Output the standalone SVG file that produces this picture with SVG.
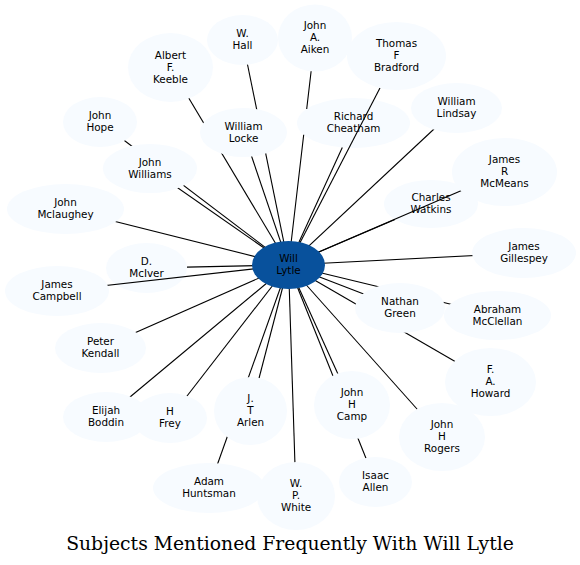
<svg xmlns="http://www.w3.org/2000/svg" width="580" height="565" viewBox="0 0 580 565">
<style>
.n ellipse{fill:#f7fbff;stroke:none}
.hub ellipse{fill:#08519c;stroke:none}
text{font-family:"DejaVu Sans","Liberation Sans",sans-serif;font-size:10.4px;fill:#000;text-anchor:middle}
#edges line,#edges path{stroke:#000;stroke-width:1.1;fill:none}
.title{font-family:"DejaVu Serif","Liberation Serif",serif;font-size:18.8px}
</style>
<rect width="580" height="565" fill="#fff"/>
<g id="n-cheatham" class="n"><ellipse cx="353.5" cy="123" rx="56.5" ry="25"/><text x="353.5" y="120">Richard<tspan x="353.5" dy="12">Cheatham</tspan></text></g>
<g id="n-watkins" class="n"><ellipse cx="431" cy="204" rx="47" ry="24"/><text x="431" y="201">Charles<tspan x="431" dy="12">Watkins</tspan></text></g>
<g id="n-mciver" class="n"><ellipse cx="146.5" cy="268" rx="40.5" ry="25"/><text x="146.5" y="265">D.<tspan x="146.5" dy="12">McIver</tspan></text></g>
<g id="edges">
<line x1="288.5" y1="265" x2="242.5" y2="40"/>
<path d="M288.5 265L303.7 134.8M306.7 109L315 38"/>
<line x1="288.5" y1="265" x2="396.5" y2="56"/>
<line x1="288.5" y1="265" x2="170.5" y2="67.5"/>
<line x1="288.5" y1="265" x2="243.5" y2="132.5"/>
<line x1="288.5" y1="265" x2="342.3" y2="147.5"/>
<line x1="288.5" y1="265" x2="456.5" y2="108"/>
<line x1="288.5" y1="265" x2="100" y2="122"/>
<line x1="288.5" y1="265" x2="150" y2="168.5"/>
<line x1="288.5" y1="265" x2="504.5" y2="172"/>
<line x1="288.5" y1="265" x2="395" y2="219.4"/>
<line x1="288.5" y1="265" x2="65.5" y2="209"/>
<line x1="288.5" y1="265" x2="187" y2="267.1"/>
<line x1="288.5" y1="265" x2="57" y2="291"/>
<line x1="288.5" y1="265" x2="524" y2="253"/>
<line x1="288.5" y1="265" x2="400" y2="308"/>
<line x1="288.5" y1="265" x2="497.5" y2="315.5"/>
<line x1="288.5" y1="265" x2="100.5" y2="348"/>
<line x1="288.5" y1="265" x2="490.5" y2="382"/>
<line x1="288.5" y1="265" x2="106" y2="417"/>
<line x1="288.5" y1="265" x2="170" y2="418"/>
<line x1="288.5" y1="265" x2="250.5" y2="411"/>
<line x1="288.5" y1="265" x2="352" y2="405"/>
<line x1="288.5" y1="265" x2="442" y2="437"/>
<line x1="288.5" y1="265" x2="375.5" y2="482"/>
<line x1="288.5" y1="265" x2="209" y2="488"/>
<line x1="288.5" y1="265" x2="296" y2="496"/>
</g>
<g id="n-hall" class="n"><ellipse cx="242.5" cy="40" rx="35.5" ry="25"/><text x="242.5" y="37">W.<tspan x="242.5" dy="12">Hall</tspan></text></g>
<g id="n-aiken" class="n"><ellipse cx="315" cy="38" rx="37" ry="33.5"/><text x="315" y="29">John<tspan x="315" dy="12">A.</tspan><tspan x="315" dy="12">Aiken</tspan></text></g>
<g id="n-bradford" class="n"><ellipse cx="396.5" cy="56" rx="49.5" ry="34"/><text x="396.5" y="47">Thomas<tspan x="396.5" dy="12">F</tspan><tspan x="396.5" dy="12">Bradford</tspan></text></g>
<g id="n-keeble" class="n"><ellipse cx="170.5" cy="67.5" rx="42.5" ry="34.5"/><text x="170.5" y="58.5">Albert<tspan x="170.5" dy="12">F.</tspan><tspan x="170.5" dy="12">Keeble</tspan></text></g>
<g id="n-locke" class="n"><ellipse cx="243.5" cy="132.5" rx="43.5" ry="24.5"/><text x="243.5" y="129.5">William<tspan x="243.5" dy="12">Locke</tspan></text></g>
<g id="n-lindsay" class="n"><ellipse cx="456.5" cy="108" rx="45.5" ry="25"/><text x="456.5" y="105">William<tspan x="456.5" dy="12">Lindsay</tspan></text></g>
<g id="n-hope" class="n"><ellipse cx="100" cy="122" rx="37" ry="25"/><text x="100" y="119">John<tspan x="100" dy="12">Hope</tspan></text></g>
<g id="n-williams" class="n"><ellipse cx="150" cy="168.5" rx="47" ry="24.5"/><text x="150" y="165.5">John<tspan x="150" dy="12">Williams</tspan></text></g>
<g id="n-mcmeans" class="n"><ellipse cx="504.5" cy="172" rx="52.5" ry="34"/><text x="504.5" y="163">James<tspan x="504.5" dy="12">R</tspan><tspan x="504.5" dy="12">McMeans</tspan></text></g>
<g id="n-mclaughey" class="n"><ellipse cx="65.5" cy="209" rx="58.5" ry="25"/><text x="65.5" y="206">John<tspan x="65.5" dy="12">Mclaughey</tspan></text></g>
<g id="n-campbell" class="n"><ellipse cx="57" cy="291" rx="52" ry="25"/><text x="57" y="288">James<tspan x="57" dy="12">Campbell</tspan></text></g>
<g id="n-gillespey" class="n"><ellipse cx="524" cy="253" rx="52" ry="25"/><text x="524" y="250">James<tspan x="524" dy="12">Gillespey</tspan></text></g>
<g id="n-green" class="n"><ellipse cx="400" cy="308" rx="45" ry="25"/><text x="400" y="305">Nathan<tspan x="400" dy="12">Green</tspan></text></g>
<g id="n-mcclellan" class="n"><ellipse cx="497.5" cy="315.5" rx="53.5" ry="24.5"/><text x="497.5" y="312.5">Abraham<tspan x="497.5" dy="12">McClellan</tspan></text></g>
<g id="n-kendall" class="n"><ellipse cx="100.5" cy="348" rx="45.5" ry="25"/><text x="100.5" y="345">Peter<tspan x="100.5" dy="12">Kendall</tspan></text></g>
<g id="n-howard" class="n"><ellipse cx="490.5" cy="382" rx="45.5" ry="34"/><text x="490.5" y="373">F.<tspan x="490.5" dy="12">A.</tspan><tspan x="490.5" dy="12">Howard</tspan></text></g>
<g id="n-boddin" class="n"><ellipse cx="106" cy="417" rx="43" ry="25"/><text x="106" y="414">Elijah<tspan x="106" dy="12">Boddin</tspan></text></g>
<g id="n-frey" class="n"><ellipse cx="170" cy="418" rx="37" ry="25"/><text x="170" y="415">H<tspan x="170" dy="12">Frey</tspan></text></g>
<g id="n-arlen" class="n"><ellipse cx="250.5" cy="411" rx="36.5" ry="34"/><text x="250.5" y="402">J.<tspan x="250.5" dy="12">T</tspan><tspan x="250.5" dy="12">Arlen</tspan></text></g>
<g id="n-camp" class="n"><ellipse cx="352" cy="405" rx="38" ry="34"/><text x="352" y="396">John<tspan x="352" dy="12">H</tspan><tspan x="352" dy="12">Camp</tspan></text></g>
<g id="n-rogers" class="n"><ellipse cx="442" cy="437" rx="43" ry="34"/><text x="442" y="428">John<tspan x="442" dy="12">H</tspan><tspan x="442" dy="12">Rogers</tspan></text></g>
<g id="n-allen" class="n"><ellipse cx="375.5" cy="482" rx="36.5" ry="25"/><text x="375.5" y="479">Isaac<tspan x="375.5" dy="12">Allen</tspan></text></g>
<g id="n-huntsman" class="n"><ellipse cx="209" cy="488" rx="56" ry="25"/><text x="209" y="485">Adam<tspan x="209" dy="12">Huntsman</tspan></text></g>
<g id="n-white" class="n"><ellipse cx="296" cy="496" rx="39" ry="34"/><text x="296" y="487">W.<tspan x="296" dy="12">P.</tspan><tspan x="296" dy="12">White</tspan></text></g>
<g id="n-lytle" class="hub"><ellipse cx="288.5" cy="265" rx="36.5" ry="24"/><text x="288.5" y="262">Will<tspan x="288.5" dy="12">Lytle</tspan></text></g>
<text class="title" x="290" y="550">Subjects Mentioned Frequently With Will Lytle</text>
</svg>
